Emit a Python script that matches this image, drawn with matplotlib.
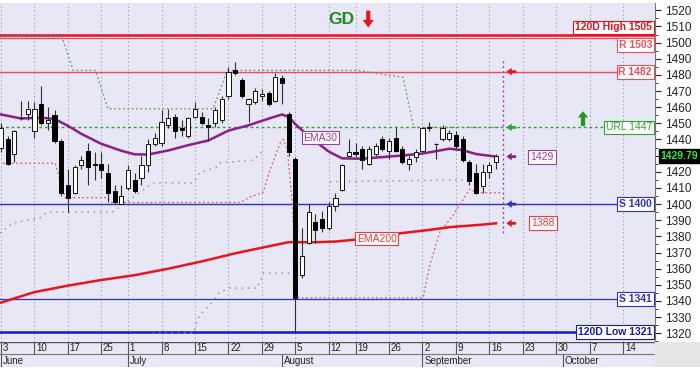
import numpy as np
import pandas as pd
import matplotlib
matplotlib.use("Agg")
import matplotlib.pyplot as plt

plt.rcParams["font.family"] = ["Liberation Sans", "DejaVu Sans"]

# trading days, two market holidays left out
holidays = pd.to_datetime(["2019-06-24", "2019-08-15"])
days = pd.bdate_range("2019-06-03", "2019-10-18")
days = days[~days.isin(holidays)]

opens = [1435, 1440, 1431, 1453, 1456, 1445, 1462, 1450, 1455, 1439,
         1412, 1407, 1424, 1433, 1425, 1425, 1419, 1408, 1400, 1410,
         1415, 1416, 1424, 1437, 1438, 1449, 1454, 1447, 1442, 1454,
         1454, 1449, 1450, 1452, 1467, 1483, 1477, 1462, 1463, 1467,
         1469, 1464, 1478, 1456, 1428, 1356, 1376, 1389, 1391, 1385,
         1399, 1409, 1430, 1432, 1434, 1425, 1431, 1440, 1433, 1441,
         1434, 1425, 1429, 1433, 1447, 1437.5, 1440, 1440, 1443, 1440,
         1426, 1419, 1411, 1420, 1426]
highs = [1450, 1442, 1446, 1464, 1464, 1463, 1473, 1460, 1458, 1440,
         1422, 1424, 1430, 1438, 1432, 1432, 1425, 1412, 1412, 1424,
         1419, 1430, 1440, 1444, 1458, 1459, 1456, 1452, 1454, 1463,
         1457, 1453, 1460, 1467, 1485, 1488, 1478, 1466, 1472, 1471,
         1470, 1481, 1480, 1457, 1429, 1385, 1400, 1394, 1396, 1401,
         1407, 1425, 1440, 1438, 1436, 1436, 1438, 1442, 1441, 1448,
         1436, 1430, 1434, 1448, 1451, 1438, 1449, 1446, 1445, 1442,
         1427, 1425, 1425, 1426, 1431]
lows = [1432, 1424, 1426, 1452, 1452, 1441, 1449, 1446, 1438, 1405,
        1395, 1406, 1422, 1412, 1415, 1416, 1401, 1400, 1400, 1409,
        1407, 1412, 1420, 1436, 1436, 1447, 1441, 1442, 1441, 1453,
        1449, 1439, 1448, 1450, 1465, 1480, 1466, 1451, 1462, 1464,
        1461, 1463, 1462, 1430, 1321, 1354, 1375, 1376, 1383, 1384,
        1396, 1408, 1429, 1429, 1422, 1424, 1430, 1433, 1428, 1432,
        1425, 1421, 1426, 1432, 1445, 1428, 1439, 1439, 1434, 1426,
        1412, 1406, 1407, 1416, 1422]
closes = [1447, 1425, 1445, 1453.5, 1459, 1459, 1450, 1452, 1439, 1407,
          1404, 1423, 1427, 1423, 1424, 1421, 1407, 1401, 1405, 1421,
          1408, 1424, 1437, 1441, 1451, 1453, 1445, 1446, 1453, 1459,
          1450, 1448, 1458, 1465, 1482, 1481, 1467, 1465, 1470, 1468,
          1462, 1479, 1475, 1432, 1342, 1368, 1395, 1384, 1385, 1399,
          1404, 1424, 1432, 1431, 1427, 1434, 1436, 1434, 1439, 1433,
          1426, 1428, 1432, 1447, 1448, 1437, 1447, 1444, 1436, 1427,
          1414, 1407, 1420, 1424, 1429.79]

ema30_day = [0, 3, 6, 8, 10, 12, 15, 18, 20, 22, 25, 28, 31, 34, 37, 40,
             42, 43, 44, 46, 49, 51, 54, 57, 60, 63, 66, 67, 69, 71, 74]
ema30 = [1455.5, 1453, 1453.5, 1452.7, 1448.5, 1443.5, 1437.3, 1433, 1430.8,
         1430.7, 1433.2, 1436.5, 1439.4, 1445.5, 1448.8, 1452.9, 1455.5, 1454,
         1449.5, 1442, 1432.5, 1428.3, 1428.1, 1429.1, 1430.1, 1431.3, 1433.5,
         1434.3, 1433.4, 1431, 1429.4]

ema200_day = [0, 5, 10, 15, 20, 25, 30, 35, 39, 43, 47, 50, 53, 59, 64, 67, 72, 74]
ema200 = [1339, 1345.5, 1349.5, 1353, 1356, 1360, 1364.5, 1369.5, 1373, 1376.4,
          1376.4, 1376.8, 1378, 1381.6, 1384, 1385.7, 1387.3, 1388.1]

# trailing stops
stop_hi_day = [-0.2, 9.1, 10.8, 14.1, 16.0, 31.7, 33.8, 53.2, 60.1, 61.7, 75]
stop_hi = [1503.5, 1503.5, 1482.8, 1482.8, 1459, 1459, 1482.8, 1482.8, 1478.5, 1447.5, 1447.5]
stop_lo_day = [0.3, 8.1, 9.6, 15.8, 16.6, 35.7, 37.2, 39.2, 40.2, 41.7, 42.2,
               42.8, 43.6, 44.1, 63.1, 64.1, 65.6, 67.6, 70.1, 71.2, 75]
stop_lo = [1425.3, 1425.3, 1404, 1404, 1401, 1401, 1404.3, 1407.4, 1421, 1437.6, 1440,
           1433.7, 1398, 1342, 1342, 1362.3, 1382.7, 1393.2, 1409.4, 1407, 1407]

# lower bands (grey dots)
band_a_day = [-0.2, 1.8, 5.8, 6.9, 16.7, 22.7, 28.7, 29.7, 32.3, 32.7, 37.7, 39.0, np.nan, 49.2, 69.1]
band_a = [1382.1, 1388.3, 1391.4, 1395.1, 1395.1, 1413.1, 1413.1, 1419.3, 1423,
          1425.4, 1427.3, 1432.3, np.nan, 1413.9, 1414.9]
band_b_day = [22.7, 28.7, 29.7, 31.2, 32.7, 34.2, 38.3, 39.2, 43.2]
band_b = [1320.2, 1320.2, 1331.3, 1337.5, 1345.5, 1348, 1348, 1357.3, 1357.3]

level_names = ["120D High 1505", "R 1503", "R 1482", "URL 1447", "S 1400", "S 1341", "120D Low 1321"]
level_vals = [1505, 1503, 1482, 1447.5, 1400, 1341, 1321]
level_colors = ["#e4141e", "#f0505e", "#ec4c5c", "#2ea52e", "#2f2fd0", "#2f2fd0", "#1818b8"]
level_widths = [1.8, 1.0, 1.0, 1.0, 1.0, 0.9, 1.8]

bg = "#e7e7f5"
red = "#e8141e"
purple = "#8a1e8a"

fig = plt.figure(figsize=(7, 3.79), dpi=100)
ax = fig.add_axes([0, 0.0989, 0.9357, 0.8931])
ax.set_facecolor(bg)
ax.set_xlim(-0.15, 97.76)
ax.set_ylim(1314.9, 1524.5)

wd = [d.weekday() for d in days]
week_idx = [i for i in range(len(days)) if i == 0 or wd[i] < wd[i - 1]]
month_idx = [i for i in range(len(days)) if i == 0 or days[i].month != days[i - 1].month]

for i in week_idx:
    ax.axvline(i, color="#a2a2b4", lw=0.7, ls=(0, (1.5, 2.5)), zorder=0)

# support / resistance levels
for name, v, col, w in zip(level_names, level_vals, level_colors, level_widths):
    if name.startswith("URL"):
        ax.axhline(v, color=col, lw=w, ls=(0, (2, 2)), zorder=1)
    else:
        ax.axhline(v, color=col, lw=w, zorder=1)
    bold = "normal" if name.startswith("URL") else "bold"
    va, dy = "center", 0
    if name.startswith("120D High"):
        va, dy = "bottom", 1.5
    elif name == "R 1503":
        va, dy = "top", -1.5
    ax.annotate(name, xy=(97.3, v), xytext=(0, dy), textcoords="offset points",
                ha="right", va=va, fontsize=7.5, color=col, fontweight=bold, zorder=8,
                bbox=dict(boxstyle="square,pad=0.18", fc="white", ec=col, lw=0.8))

ax.plot(band_a_day, band_a, color="#8c8c9c", lw=1, ls=(0, (1, 3.5)), zorder=1)
ax.plot(band_b_day, band_b, color="#8c8c9c", lw=1, ls=(0, (1, 3.5)), zorder=1)
ax.plot(stop_hi_day, stop_hi, color="#6a9a6a", lw=0.9, ls=(0, (1.5, 2)), zorder=1)
ax.plot(stop_lo_day, stop_lo, color="#e05a70", lw=0.9, ls=(0, (1.5, 2)), zorder=1)

ax.plot(ema200_day, ema200, color=red, lw=1.8, zorder=2)
ax.plot(ema30_day, ema30, color=purple, lw=1.8, zorder=2)

# candles
o = np.array(opens)
h = np.array(highs)
l = np.array(lows)
c = np.array(closes)
t = np.arange(len(c))
up = c >= o
ax.vlines(t, l, h, color="#303030", lw=0.8, zorder=3)
lo = np.minimum(o, c)
hh = np.maximum(np.abs(c - o), 0.5)
ax.bar(t[up], hh[up], bottom=lo[up], width=0.62, color="white", edgecolor="#111111", lw=0.7, zorder=4)
ax.bar(t[~up], hh[~up], bottom=lo[~up], width=0.62, color="black", edgecolor="black", lw=0.7, zorder=4)

n = len(c)
ax.vlines(n, 1382.4, 1490, color="#9a4a9a", lw=1, linestyles=(0, (1.5, 2)), zorder=2)

# small arrows at the right of the last bar
arrow_vals = [1482, 1447.5, ema30[-1], 1400, ema200[-1]]
arrow_cols = [red, "#2ea52e", purple, "#2f2fd0", red]
for v, col in zip(arrow_vals, arrow_cols):
    ax.annotate("", xy=(n + 0.55, v), xytext=(n + 2.0, v),
                arrowprops=dict(arrowstyle="simple,head_length=0.38,head_width=0.55,tail_width=0.2",
                                color=col, lw=0, shrinkA=0, shrinkB=0), zorder=6)

ax.text(n + 5.9, ema30[-1], f"{int(ema30[-1])}", ha="center", va="center", fontsize=7.5,
        color="#a03ca0", zorder=8,
        bbox=dict(boxstyle="square,pad=0.2", fc="white", ec="#a03ca0", lw=0.8))
ax.text(n + 6.0, ema200[-1], f"{int(ema200[-1])}", ha="center", va="center", fontsize=7.5,
        color="#f03a3a", zorder=8,
        bbox=dict(boxstyle="square,pad=0.2", fc="white", ec="#f03a3a", lw=0.8))

ax.text(45.2, 1441.1, "EMA30", ha="left", va="center", fontsize=7.5, color="#a03ca0", zorder=8,
        bbox=dict(boxstyle="square,pad=0.15", fc="white", ec="#a03ca0", lw=0.8))
ax.text(53.2, 1378.6, "EMA200", ha="left", va="center", fontsize=7.5, color="#f03a3a", zorder=8,
        bbox=dict(boxstyle="square,pad=0.15", fc="white", ec="#f03a3a", lw=0.8))

# green up arrow next to URL
ax.annotate("", xy=(87, 1457.5), xytext=(87, 1448.3),
            arrowprops=dict(arrowstyle="simple,head_length=0.45,head_width=0.75,tail_width=0.3",
                            color="#1f9a1f", lw=0, shrinkA=0, shrinkB=0), zorder=6)

ax.text(50.8, 1514.4, "GD", ha="center", va="center", fontsize=12.5, fontweight="bold",
        color="#1e8c1e", zorder=8)
ax.annotate("", xy=(54.9, 1509.3), xytext=(54.9, 1519.8),
            arrowprops=dict(arrowstyle="simple,head_length=0.55,head_width=0.8,tail_width=0.3",
                            color=red, lw=0, shrinkA=0, shrinkB=0), zorder=6)

# price axis; the 1430 label sits under the last-price box
yt = np.arange(1320, 1521, 10)
ax.yaxis.tick_right()
ax.set_yticks(yt)
ax.set_yticklabels(["" if v == 1430 else str(v) for v in yt])
ax.set_yticks(np.arange(1315, 1525, 5), minor=True)
ax.tick_params(axis="y", which="major", length=4, width=0.8, pad=3, labelsize=8.5,
               colors="#222222")
ax.tick_params(axis="y", which="minor", length=2, width=0.7, colors="#444444")
ax.set_xticks([])
for s in ["left", "top", "bottom"]:
    ax.spines[s].set_visible(False)
ax.spines["right"].set_color("#777777")

ax.annotate(f"{c[-1]:.2f}", xy=(1, c[-1]), xycoords=("axes fraction", "data"),
            xytext=(4, 0), textcoords="offset points", ha="left", va="center",
            fontsize=7.5, fontweight="bold", color="#33ee33", zorder=10, annotation_clip=False,
            bbox=dict(boxstyle="square,pad=0.15", fc="black", ec="black"))

# date strip
axd = fig.add_axes([0, 0.0317, 0.9357, 0.0672])
axd.set_facecolor(bg)
axd.set_xlim(ax.get_xlim())
axd.set_ylim(0, 26)
axd.set_xticks([])
axd.set_yticks([])
for s in axd.spines.values():
    s.set_visible(False)
axd.axhline(25.6, color="#555555", lw=1)
axd.axhline(13.5, color="#777777", lw=0.8)
axd.vlines(week_idx, 13.5, 26, color="#555555", lw=0.8)
axd.vlines(month_idx, 0, 13.5, color="#555555", lw=0.8)
for i in week_idx:
    axd.text(i + 0.25, 19.3, str(days[i].day), ha="left", va="center", fontsize=7, color="#222222")
for i in month_idx:
    axd.text(i + 0.25, 6.6, days[i].strftime("%B"), ha="left", va="center", fontsize=7,
             color="#222222")

axg = fig.add_axes([0.9357, 0.0317, 0.0643, 0.0672])
axg.set_facecolor("#e6e6e6")
axg.set_xticks([])
axg.set_yticks([])
for s in axg.spines.values():
    s.set_visible(False)

fig.savefig("out.png", dpi=100)
